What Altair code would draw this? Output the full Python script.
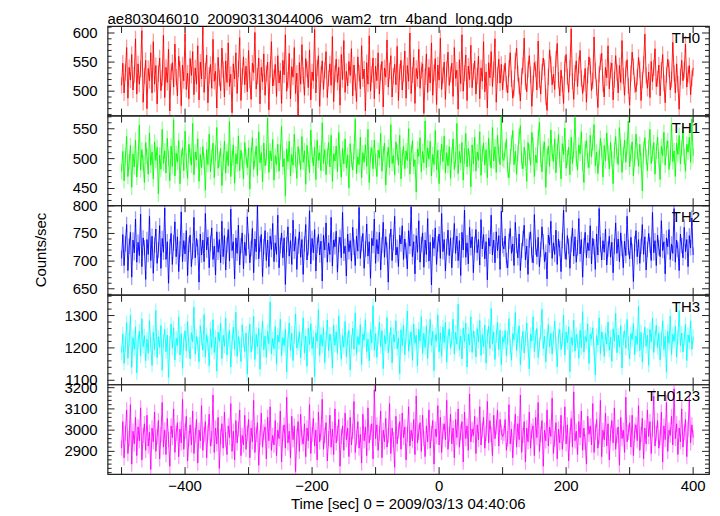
import altair as alt
import pandas as pd

# ---------------- data ----------------
t_start = -500
t_bin = 2

th0 = [510, 548, 497, 532, 575, 488, 541, 519, 563, 502, 528, 590, 495, 547, 512, 538, 604, 481, 526, 553,
       470, 539, 518, 566, 497, 585, 512, 544, 478, 530, 557, 501, 523, 596, 489, 541, 515, 572, 466, 533,
       549, 507, 581, 524, 492, 560, 538, 475, 545, 518, 599, 503, 531, 487, 556, 527, 568, 494, 540, 512,
       578, 485, 550, 521, 610, 498, 535, 562, 480, 527, 546, 505, 589, 517, 534, 471, 558, 523, 501, 574,
       537, 490, 552, 515, 583, 508, 529, 463, 547, 521, 566, 496, 538, 592, 484, 525, 559, 511, 543, 499,
       570, 519, 486, 548, 532, 601, 504, 526, 557, 478, 541, 516, 564, 493, 530, 550, 468, 537, 585, 509,
       523, 546, 491, 561, 514, 535, 479, 553, 528, 597, 500, 519, 565, 487, 542, 524, 575, 496, 531, 458,
       549, 512, 580, 527, 493, 556, 538, 506, 571, 485, 533, 518, 606, 497, 540, 561, 474, 529, 552, 503,
       536, 568, 489, 522, 547, 510, 594, 482, 530, 555, 515, 541, 476, 563, 520, 587, 498, 534, 509, 551,
       527, 573, 492, 545, 516, 482, 559, 531, 504, 578, 521, 538, 466, 549, 512, 595, 500, 529, 557, 487,
       543, 518, 566, 495, 532, 551, 473, 540, 524, 588, 507, 535, 561, 490, 526, 546, 511, 577, 484, 533,
       553, 502, 530, 569, 488, 544, 517, 600, 496, 528, 558, 479, 539, 521, 572, 505, 536, 547, 462, 525,
       564, 498, 541, 514, 583, 493, 532, 556, 477, 545, 519, 591, 503, 527, 550, 486, 538, 567, 510, 529,
       548, 491, 575, 522, 536, 469, 554, 513, 597, 500, 531, 562, 484, 543, 520, 579, 506, 534, 552, 495,
       526, 560, 487, 540, 517, 585, 499, 533, 471, 549, 523, 568, 508, 537, 590, 481, 528, 555, 514, 546,
       502, 531, 548, 512, 497, 539, 566, 521, 488, 505, 552, 574, 530, 509, 483, 526, 544, 591, 516, 499,
       537, 561, 528, 474, 513, 549, 538, 502, 586, 520, 495, 533, 557, 541, 490, 467, 524, 571, 546, 511,
       529, 503, 555, 582, 519, 492, 536, 512, 479, 547, 563, 525, 498, 540, 607, 517, 486, 531, 552, 508,
       545, 570, 522, 496, 514, 539, 481, 527, 559, 543, 501, 518, 593, 535, 506, 472, 529, 550, 565, 513,
       490, 541, 523, 578, 504, 536, 548, 485, 520, 561, 532, 497, 544, 515, 587, 526, 493, 538, 554, 509,
       476, 530, 567, 542, 511, 499, 524, 558, 537, 484, 519, 546, 598, 527, 505, 533, 489, 551, 516, 540,
       573, 508, 521, 545, 492, 536, 563, 514, 480, 528, 555, 539, 502, 520, 584, 531, 497, 547, 512, 469,
       525, 553, 518, 536, 581, 507, 529, 544, 494, 522, 540]

th1 = [478, 512, 463, 501, 537, 470, 495, 522, 452, 508, 486, 531, 469, 498, 556, 481, 515, 493, 460, 527,
       504, 474, 543, 489, 511, 466, 528, 497, 519, 441, 506, 482, 549, 492, 513, 476, 534, 500, 463, 521,
       487, 565, 471, 509, 494, 530, 458, 502, 518, 480, 546, 496, 467, 524, 505, 489, 559, 473, 511, 498,
       533, 462, 507, 485, 520, 496, 447, 515, 490, 541, 478, 503, 526, 468, 509, 552, 484, 499, 517, 455,
       494, 529, 476, 512, 488, 562, 470, 501, 523, 459, 508, 491, 538, 480, 514, 497, 466, 527, 503, 485,
       518, 449, 506, 535, 482, 499, 521, 472, 545, 493, 510, 461, 526, 488, 502, 568, 477, 513, 496, 532,
       464, 505, 490, 524, 479, 511, 554, 486, 500, 438, 516, 495, 529, 471, 507, 489, 541, 498, 467, 520,
       503, 482, 537, 494, 513, 457, 522, 499, 476, 548, 506, 488, 519, 465, 531, 497, 510, 480, 560, 492,
       515, 473, 504, 527, 486, 539, 462, 508, 496, 521, 478, 544, 500, 469, 517, 491, 533, 484, 506, 451,
       525, 498, 481, 512, 566, 475, 503, 490, 536, 468, 510, 494, 523, 487, 549, 460, 507, 518, 483, 531,
       496, 470, 514, 501, 542, 479, 508, 526, 456, 499, 519, 485, 557, 492, 505, 473, 528, 511, 489, 539,
       466, 502, 521, 483, 513, 497, 550, 474, 509, 530, 487, 498, 444, 516, 504, 535, 478, 512, 493, 563,
       485, 518, 499, 529, 471, 507, 490, 547, 481, 514, 458, 502, 524, 495, 538, 476, 510, 488, 520, 467,
       506, 533, 482, 498, 559, 475, 512, 493, 527, 464, 505, 542, 486, 517, 500, 453, 523, 491, 536, 479,
       511, 497, 545, 472, 508, 526, 489, 515, 468, 534, 501, 484, 552, 496, 520, 477, 539, 507, 490, 570,
       500, 497, 515, 532, 481, 468, 503, 526, 547, 490, 512, 474, 509, 538, 555, 496, 483, 519, 501, 462,
       527, 511, 489, 544, 523, 470, 506, 493, 535, 561, 499, 478, 516, 528, 452, 504, 521, 487, 548, 509,
       495, 533, 476, 512, 540, 498, 466, 525, 507, 551, 484, 502, 519, 473, 536, 492, 514, 569, 500, 481,
       523, 508, 545, 491, 460, 517, 530, 497, 485, 539, 503, 526, 557, 488, 511, 475, 501, 534, 515, 469,
       522, 496, 543, 510, 483, 527, 499, 458, 514, 537, 505, 490, 552, 518, 477, 506, 531, 494, 520, 563,
       486, 509, 528, 471, 500, 541, 513, 487, 524, 497, 446, 516, 535, 503, 480, 519, 549, 492, 508, 527,
       474, 512, 536, 498, 465, 521, 505, 544, 489, 517, 530, 482, 501, 558, 495, 513, 470, 526, 507, 539,
       491, 518, 547, 503, 479, 524, 511, 536, 494, 566, 505]

th2 = [705, 748, 692, 731, 766, 683, 727, 752, 671, 738, 715, 776, 698, 734, 710, 785, 690, 742, 724, 667,
       739, 712, 781, 701, 745, 678, 729, 758, 696, 720, 764, 687, 741, 716, 796, 703, 735, 660, 726, 750,
       694, 733, 771, 708, 744, 681, 722, 789, 699, 737, 713, 755, 674, 730, 747, 690, 718, 779, 706, 741,
       725, 662, 749, 711, 738, 699, 786, 720, 743, 688, 732, 760, 703, 727, 675, 753, 716, 739, 697, 772,
       708, 746, 684, 729, 757, 700, 794, 719, 735, 668, 742, 714, 765, 693, 728, 751, 686, 734, 710, 780,
       736, 697, 723, 759, 679, 740, 717, 800, 704, 731, 748, 672, 726, 755, 701, 738, 690, 745, 721, 768,
       699, 733, 712, 783, 688, 728, 751, 706, 742, 658, 730, 762, 709, 737, 694, 774, 718, 744, 685, 727,
       753, 707, 739, 676, 731, 766, 702, 724, 791, 695, 741, 715, 757, 682, 729, 748, 711, 736, 664, 747,
       720, 769, 698, 733, 712, 779, 691, 738, 726, 754, 680, 730, 743, 706, 788, 714, 727, 673, 749, 717,
       737, 700, 761, 725, 692, 745, 718, 797, 705, 732, 750, 687, 722, 767, 709, 735, 669, 741, 728, 776,
       696, 739, 713, 752, 684, 729, 770, 707, 744, 720, 662, 736, 758, 701, 733, 781, 711, 725, 690, 747,
       731, 764, 703, 740, 719, 686, 755, 727, 798, 708, 735, 677, 746, 716, 773, 698, 730, 751, 689, 738,
       712, 777, 700, 734, 657, 743, 723, 760, 694, 731, 749, 705, 786, 717, 739, 682, 726, 756, 710, 742,
       688, 729, 768, 714, 745, 701, 737, 674, 752, 720, 792, 707, 733, 695, 761, 724, 744, 679, 730, 757,
       715, 739, 693, 775, 722, 748, 704, 735, 666, 742, 727, 783, 711, 738, 697, 753, 719, 746, 685, 790,
       728, 722, 745, 701, 688, 736, 759, 714, 731, 692, 770, 728, 706, 749, 683, 719, 741, 765, 702, 727,
       676, 738, 753, 711, 697, 784, 725, 708, 743, 690, 721, 762, 735, 699, 716, 668, 747, 729, 772, 705,
       733, 712, 756, 694, 740, 723, 681, 737, 792, 718, 703, 746, 727, 687, 731, 760, 709, 744, 698, 724,
       777, 713, 739, 671, 728, 752, 706, 733, 719, 764, 695, 741, 726, 685, 749, 711, 795, 730, 702, 737,
       716, 758, 693, 722, 745, 707, 734, 679, 727, 769, 714, 740, 699, 751, 723, 688, 736, 710, 781, 725,
       704, 743, 718, 663, 732, 755, 708, 739, 696, 727, 766, 712, 744, 684, 721, 750, 729, 701, 788, 715,
       737, 692, 747, 724, 708, 773, 719, 735, 677, 742, 726, 757, 703, 731, 714, 795, 698, 738, 721, 683,
       749, 728, 706, 761, 717, 739, 690, 746, 724, 778, 711]

th3 = [1185, 1243, 1152, 1210, 1278, 1168, 1225, 1301, 1140, 1232, 1196, 1265, 1123, 1218, 1252, 1175, 1290, 1204, 1238, 1160,
       1227, 1183, 1284, 1211, 1146, 1248, 1195, 1316, 1170, 1234, 1202, 1269, 1131, 1221, 1257, 1188, 1240, 1109, 1215, 1274,
       1199, 1262, 1163, 1230, 1206, 1295, 1178, 1244, 1137, 1223, 1253, 1190, 1281, 1208, 1166, 1247, 1219, 1326, 1181, 1236,
       1212, 1157, 1268, 1228, 1193, 1303, 1172, 1241, 1214, 1145, 1259, 1201, 1287, 1186, 1233, 1128, 1249, 1220, 1276, 1167,
       1239, 1205, 1292, 1179, 1226, 1255, 1141, 1217, 1264, 1196, 1310, 1174, 1235, 1209, 1158, 1271, 1222, 1189, 1246, 1119,
       1231, 1273, 1187, 1216, 1298, 1164, 1242, 1203, 1260, 1134, 1225, 1283, 1194, 1237, 1171, 1251, 1213, 1342, 1182, 1229,
       1197, 1266, 1150, 1240, 1218, 1289, 1176, 1232, 1207, 1258, 1126, 1224, 1277, 1192, 1245, 1161, 1236, 1305, 1200, 1214,
       1250, 1169, 1228, 1293, 1184, 1237, 1143, 1261, 1211, 1275, 1198, 1234, 1112, 1247, 1220, 1318, 1177, 1241, 1205, 1263,
       1155, 1226, 1286, 1191, 1243, 1216, 1139, 1270, 1208, 1250, 1183, 1299, 1222, 1165, 1238, 1202, 1281, 1173, 1229, 1254,
       1132, 1219, 1261, 1196, 1308, 1180, 1235, 1210, 1272, 1149, 1243, 1224, 1287, 1189, 1227, 1160, 1257, 1215, 1331, 1193,
       1244, 1171, 1232, 1279, 1204, 1253, 1136, 1238, 1212, 1294, 1185, 1226, 1263, 1154, 1241, 1218, 1284, 1197, 1231, 1121,
       1256, 1207, 1270, 1179, 1236, 1314, 1190, 1228, 1249, 1162, 1274, 1214, 1239, 1144, 1258, 1221, 1297, 1183, 1245, 1201,
       1268, 1167, 1233, 1288, 1208, 1251, 1130, 1240, 1223, 1302, 1188, 1246, 1174, 1265, 1217, 1280, 1156, 1234, 1259, 1199,
       1227, 1289, 1181, 1248, 1212, 1335, 1195, 1237, 1166, 1262, 1220, 1277, 1141, 1243, 1209, 1296, 1186, 1252, 1230, 1172,
       1260, 1218, 1285, 1177, 1241, 1204, 1271, 1153, 1236, 1267, 1198, 1322, 1213, 1249, 1164, 1238, 1279, 1195, 1255, 1148,
       1232, 1218, 1254, 1176, 1231, 1290, 1203, 1162, 1244, 1226, 1309, 1192, 1237, 1268, 1148, 1215, 1251, 1184, 1229, 1277,
       1206, 1135, 1242, 1221, 1296, 1189, 1233, 1260, 1170, 1211, 1247, 1319, 1198, 1236, 1157, 1225, 1272, 1204, 1245, 1181,
       1230, 1283, 1213, 1142, 1239, 1257, 1195, 1224, 1301, 1178, 1249, 1216, 1265, 1127, 1233, 1208, 1286, 1190, 1241, 1222,
       1168, 1255, 1200, 1312, 1187, 1235, 1219, 1274, 1152, 1243, 1228, 1262, 1196, 1117, 1238, 1209, 1293, 1182, 1250, 1227,
       1174, 1246, 1212, 1280, 1193, 1234, 1159, 1259, 1221, 1307, 1185, 1240, 1203, 1269, 1138, 1230, 1253, 1199, 1288, 1214,
       1166, 1244, 1226, 1275, 1179, 1237, 1211, 1328, 1192, 1248, 1156, 1223, 1264, 1205, 1239, 1146, 1257, 1218, 1291, 1186,
       1232, 1270, 1201, 1245, 1163, 1227, 1284, 1195, 1236, 1125, 1251, 1214, 1298, 1180, 1242, 1220, 1266, 1172, 1233, 1315,
       1207, 1246, 1188, 1229, 1273, 1161, 1240, 1217, 1283, 1196, 1235]

th0123 = [2915, 3040, 2870, 2985, 3095, 2890, 2960, 3120, 2840, 2995, 2935, 3060, 2880, 3015, 2950, 3105, 2860, 2975, 3030, 2905,
          3070, 2925, 2990, 2815, 3010, 2945, 3085, 2900, 2970, 3045, 2865, 2980, 3130, 2920, 3000, 2885, 3055, 2955, 2830, 3020,
          2965, 3100, 2895, 2985, 3035, 2875, 3005, 2940, 3145, 2910, 2995, 3065, 2855, 2960, 3025, 2930, 3090, 2890, 2975, 3050,
          2845, 3000, 2950, 3115, 2905, 2980, 3040, 2870, 2990, 3075, 2925, 2960, 3165, 2895, 3010, 2935, 3060, 2820, 2970, 3030,
          2915, 3085, 2955, 2885, 3020, 2965, 3125, 2900, 2995, 2860, 3045, 2940, 3005, 3095, 2880, 2975, 2930, 3070, 2910, 2985,
          3050, 2870, 3010, 2945, 3140, 2895, 2980, 3035, 2835, 2965, 3080, 2920, 2990, 3015, 2865, 3060, 2950, 3110, 2905, 2975,
          2930, 3045, 2880, 3000, 2960, 3090, 2850, 2985, 3025, 2915, 3155, 2940, 2995, 2870, 3065, 2955, 3020, 2805, 2970, 3040,
          2900, 3075, 2965, 2935, 3030, 2875, 3010, 2950, 3120, 2890, 2980, 3055, 2925, 3000, 2860, 3085, 2945, 2990, 3145, 2910,
          2975, 3035, 2855, 2960, 3070, 2920, 3005, 2885, 3100, 2940, 2985, 3050, 2830, 2970, 3020, 2905, 3080, 2955, 3010, 2875,
          3060, 2930, 2995, 3135, 2895, 2965, 3040, 2915, 2980, 2845, 3075, 2950, 3015, 2880, 3105, 2940, 2990, 3030, 2865, 3190,
          2960, 3025, 2905, 2985, 3090, 2870, 3000, 2945, 3055, 2920, 2975, 3125, 2890, 3010, 2955, 2825, 3065, 2935, 2995, 3040,
          2910, 3080, 2965, 3015, 2860, 2980, 3110, 2925, 3000, 2950, 3050, 2885, 3160, 2940, 2990, 3035, 2900, 3070, 2960, 2875,
          3020, 2945, 3095, 2915, 2985, 3045, 2840, 3005, 2970, 3115, 2930, 3060, 2895, 2995, 3030, 2955, 3140, 2910, 2980, 3075,
          2935, 3010, 2870, 3050, 2965, 3100, 2920, 2990, 3040, 2850, 3085, 2960, 3020, 2905, 3170, 2945, 3005, 2975, 3065, 2890,
          3025, 2955, 3110, 2930, 3000, 3060, 2915, 2985, 3135, 2940, 3045, 2980, 2880, 3070, 2960, 3015, 3095, 2925, 3050, 2990,
          2970, 2985, 3050, 2905, 2960, 3120, 2935, 3005, 2870, 2990, 3075, 2920, 3030, 2955, 3165, 2895, 2975, 3040, 2850, 3010,
          2945, 3085, 2915, 2995, 3020, 2880, 3060, 2965, 3130, 2900, 2980, 3045, 2830, 3000, 2950, 3095, 2925, 3015, 2970, 3150,
          2890, 2960, 3035, 2865, 3005, 2940, 3070, 2910, 2985, 3110, 2935, 3025, 2855, 2975, 3055, 2920, 3180, 2950, 2995, 2885,
          3040, 2965, 3090, 2905, 3010, 2945, 2840, 3065, 2980, 3020, 2930, 3125, 2895, 2990, 3050, 2915, 2970, 3140, 2875, 3000,
          2955, 3080, 2925, 3030, 2860, 2985, 3045, 2940, 3105, 2910, 2975, 3015, 2835, 3060, 2960, 3000, 2895, 3155, 2945, 2990,
          3035, 2920, 3070, 2880, 2995, 3025, 2950, 3115, 2905, 2980, 3055, 2865, 3010, 2935, 3095, 2970, 3040, 2890, 3005, 3160,
          2925, 2985, 3045, 2915, 2965, 3085, 2850, 3020, 2955, 3130, 2900, 3000, 2975, 3065, 2930, 3195, 2960, 3030, 2885, 3010,
          2945, 3100, 2920, 2990, 3050, 2875, 3005, 3145, 2940, 3025, 2965]

bands = ["TH0", "TH1", "TH2", "TH3", "TH0123"]
series = [th0, th1, th2, th3, th0123]
errors = [14, 13, 14, 22, 36]
colors = ["#ff0000", "#00ff00", "#0000ff", "#00ffff", "#ff00ff"]
y_domains = [[458, 612], [422, 572], [639, 801], [1087, 1364], [2793, 3215]]
y_major = [[500, 550, 600], [450, 500, 550], [650, 700, 750, 800], [1100, 1200, 1300], [2900, 3000, 3100, 3200]]
y_minor_step = [10, 10, 10, 20, 20]
x_domain = [-522, 425]
x_major = [-500, -400, -300, -200, -100, 0, 100, 200, 300, 400]
x_labels = [-400, -200, 0, 200, 400]

title_text = "ae803046010_20090313044006_wam2_trn_4band_long.qdp"
x_title = "Time [sec] 0 = 2009/03/13 04:40:06"
y_title = "Counts/sec"

# ---------------- layout ----------------
W, H = 604, 90
FONT = "Liberation Sans"
FRAME = "#222222"
MAJ, MIN = 7, 4
FS = 15

times = [t_start + t_bin * k for k in range(len(th0))]
xs = alt.Scale(domain=x_domain, nice=False, zero=False)


def ticks_y(values, ys, side, length):
    d = pd.DataFrame({"v": values})
    c = alt.Chart(d).mark_rule(color=FRAME, strokeWidth=1)
    if side == "left":
        return c.encode(y=alt.Y("v:Q", scale=ys, axis=None), x=alt.value(0), x2=alt.value(length))
    return c.encode(y=alt.Y("v:Q", scale=ys, axis=None), x=alt.value(W), x2=alt.value(W - length))


def ticks_x(values, side, length):
    d = pd.DataFrame({"v": values})
    c = alt.Chart(d).mark_rule(color=FRAME, strokeWidth=1)
    if side == "top":
        return c.encode(x=alt.X("v:Q", scale=xs, axis=None), y=alt.value(0), y2=alt.value(length))
    return c.encode(x=alt.X("v:Q", scale=xs, axis=None), y=alt.value(H), y2=alt.value(H - length))


def fixed_text(s, x, y, size=FS, **kw):
    return alt.Chart(pd.DataFrame({"s": [s]})).mark_text(
        font=FONT, fontSize=size, color="black", **kw
    ).encode(text="s:N", x=alt.value(x), y=alt.value(y))


def panel(i):
    df = pd.DataFrame({"t": times, "rate": series[i]})
    df["lo"] = df["rate"] - errors[i]
    df["hi"] = df["rate"] + errors[i]
    lo_d, hi_d = y_domains[i]
    ys = alt.Scale(domain=y_domains[i], nice=False, zero=False)
    step = y_minor_step[i]
    minor = [v for v in range((lo_d // step + 1) * step, hi_d + 1, step) if v not in y_major[i]]

    base = alt.Chart(df)
    err = base.mark_rule(color=colors[i], opacity=0.4, strokeWidth=1.3, clip=True).encode(
        x=alt.X("t:Q", scale=xs, axis=None),
        y=alt.Y("lo:Q", scale=ys, axis=None),
        y2="hi:Q",
    )
    line = base.mark_line(color=colors[i], strokeWidth=0.9, clip=True).encode(
        x=alt.X("t:Q", scale=xs, axis=None),
        y=alt.Y("rate:Q", scale=ys, axis=None),
    )
    ylab = alt.Chart(pd.DataFrame({"v": y_major[i], "s": [str(v) for v in y_major[i]]})).mark_text(
        font=FONT, fontSize=FS, color="black", align="right", baseline="middle"
    ).encode(y=alt.Y("v:Q", scale=ys, axis=None), x=alt.value(-10), text="s:N")

    layers = [err, line,
              ticks_y(y_major[i], ys, "left", MAJ), ticks_y(minor, ys, "left", MIN),
              ticks_y(y_major[i], ys, "right", MAJ), ticks_y(minor, ys, "right", MIN),
              ticks_x(x_major, "top", MAJ), ticks_x(x_major, "bottom", MAJ),
              ylab,
              fixed_text(bands[i], W - 9, 17, align="right", baseline="alphabetic")]
    if i == 2:
        layers.append(fixed_text(y_title, -67, H / 2, align="center", baseline="middle", angle=270))
    if i == len(series) - 1:
        xl = pd.DataFrame({"v": x_labels, "s": [str(v).replace("-", "\u2212") for v in x_labels]})
        layers.append(alt.Chart(xl).mark_text(
            font=FONT, fontSize=FS, color="black", align="center", baseline="middle"
        ).encode(x=alt.X("v:Q", scale=xs, axis=None), y=alt.value(H + 12), text="s:N"))
        layers.append(fixed_text(x_title, W / 2, H + 35, align="center", baseline="alphabetic"))

    props = dict(width=W, height=H)
    if i == 0:
        props["title"] = alt.TitleParams(title_text, anchor="start", frame="group", fontSize=15,
                                         font=FONT, fontWeight="normal", baseline="alphabetic",
                                         offset=-13, color="black")
    return alt.layer(*layers).properties(**props)


chart = alt.vconcat(*[panel(i) for i in range(len(series))], spacing=0, bounds="flush").properties(
    padding={"left": 25, "top": 1, "right": 1, "bottom": 0}
).configure_view(stroke=FRAME, strokeWidth=1.2).configure_title(font=FONT)

chart.save("out.html", embed_options={"renderer": "svg", "actions": False})
